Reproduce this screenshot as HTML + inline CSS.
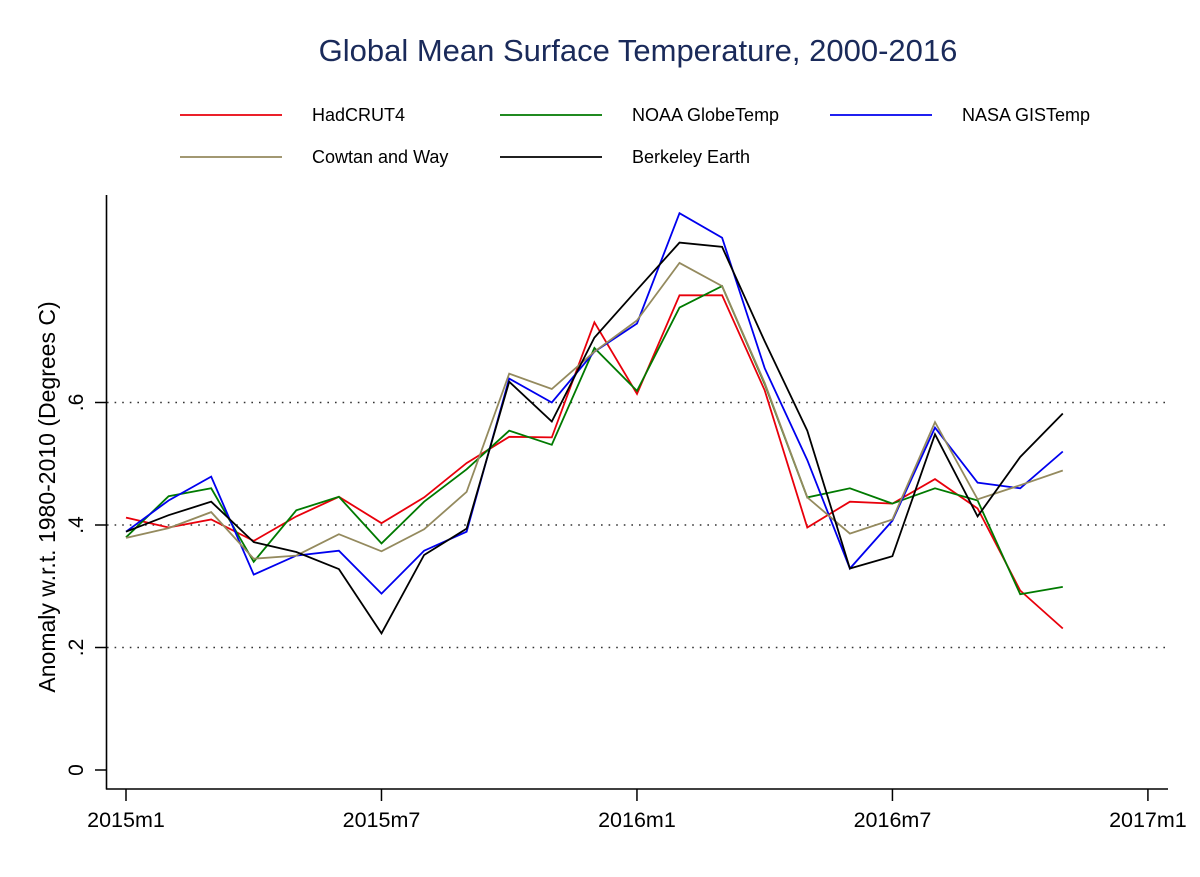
<!DOCTYPE html>
<html><head><meta charset="utf-8"><style>
html,body{margin:0;padding:0;background:#fff;}
svg text{font-family:"Liberation Sans",Arial,sans-serif;}
</style></head><body>
<svg id="chart" width="1200" height="872" viewBox="0 0 1200 872" xmlns="http://www.w3.org/2000/svg">
<rect width="1200" height="872" fill="#fff"/>
<text x="638" y="61" text-anchor="middle" font-size="31" fill="#1a2a5a">Global Mean Surface Temperature, 2000-2016</text>
<g id="legend"></g>
<g id="grid"></g>
<g id="axes"></g>
<g id="series"></g>
<text transform="translate(55,497) rotate(-90)" text-anchor="middle" font-size="23" fill="#000">Anomaly w.r.t. 1980-2010 (Degrees C)</text>
</svg>
<script>
const monthIndex = [0,1,2,3,4,5,6,7,8,9,10,11,12,13,14,15,16,17,18,19,20,21,22];
const seriesNames = ["HadCRUT4","NOAA GlobeTemp","NASA GISTemp","Cowtan and Way","Berkeley Earth"];
const seriesColors = ["#e8000b","#007a00","#0000ee","#948a5e","#000000"];
const hadcrut = [.412,.396,.409,.374,.414,.446,.403,.445,.501,.544,.543,.731,.614,.775,.775,.620,.396,.438,.435,.475,.427,.293,.231];
const noaa = [.380,.447,.460,.340,.424,.446,.370,.438,.491,.554,.531,.689,.619,.755,.790,.630,.445,.460,.435,.460,.440,.287,.299];
const nasa = [.389,.440,.479,.319,.350,.358,.288,.358,.389,.639,.600,.683,.729,.909,.869,.656,.506,.329,.407,.559,.469,.460,.520];
const cowtan = [.379,.395,.421,.345,.350,.385,.357,.393,.454,.647,.622,.683,.734,.828,.790,.632,.445,.386,.409,.568,.442,.465,.489];
const berkeley = [.389,.416,.438,.372,.356,.328,.223,.351,.394,.634,.569,.706,.784,.861,.854,.700,.554,.329,.349,.548,.414,.511,.582];
const allSeries = [hadcrut,noaa,nasa,cowtan,berkeley];
const yTicks = [0,.2,.4,.6];
const yTickLabels = ["0",".2",".4",".6"];
const gridValues = [.2,.4,.6];
const xTicks = [0,6,12,18,24];
const xTickLabels = ["2015m1","2015m7","2016m1","2016m7","2017m1"];

const NS="http://www.w3.org/2000/svg";
function xs(m){return 126 + m*42.58;}
function ys(v){return 770 - v*612.5;}
function mk(tag,attrs,parent){const e=document.createElementNS(NS,tag);for(const k in attrs)e.setAttribute(k,attrs[k]);parent.appendChild(e);return e;}
const grid=document.getElementById('grid'),axes=document.getElementById('axes'),ser=document.getElementById('series'),leg=document.getElementById('legend');

gridValues.forEach(v=>{
  const l=mk('line',{x1:107,x2:1170,y1:ys(v),y2:ys(v),stroke:'#333','stroke-width':1.6,'stroke-dasharray':'1.6 6'},grid);
  
  
});
const ya=mk('line',{x1:106.5,x2:106.5,y1:195,y2:789.5,stroke:'#000','stroke-width':1.6},axes);


const xa=mk('line',{x1:106,x2:1168,y1:789,y2:789,stroke:'#000','stroke-width':1.6},axes);


yTicks.forEach((v,i)=>{
  mk('line',{x1:95,x2:106,y1:ys(v),y2:ys(v),stroke:'#000','stroke-width':1.5},axes);
  const t=mk('text',{transform:`translate(83,${ys(v)}) rotate(-90)`,'text-anchor':'middle','font-size':21,fill:'#000'},axes);
  t.textContent=yTickLabels[i];
  
  
});
xTicks.forEach((m,i)=>{
  mk('line',{x1:xs(m),x2:xs(m),y1:789,y2:801,stroke:'#000','stroke-width':1.5},axes);
  const t=mk('text',{x:xs(m),y:827,'text-anchor':'middle','font-size':21.5,fill:'#000'},axes);
  t.textContent=xTickLabels[i];
  
  
});
allSeries.forEach((vals,si)=>{
  const pts=vals.map((v,i)=>xs(monthIndex[i]).toFixed(1)+','+ys(v).toFixed(1)).join(' ');
  const p=mk('polyline',{points:pts,fill:'none',stroke:seriesColors[si],'stroke-width':1.8,'stroke-linejoin':'miter'},ser);
  
  
});
const legPos=[[180,115],[500,115],[830,115],[180,157],[500,157]];
seriesNames.forEach((n,i)=>{
  const [x,y]=legPos[i];
  const g=mk('g',{},leg);
  
  
  mk('line',{x1:x,x2:x+102,y1:y,y2:y,stroke:seriesColors[i],'stroke-width':1.8},g);
  const t=mk('text',{x:x+132,y:y+6,'font-size':18,fill:'#000'},g);
  t.textContent=n;
});
</script>
</body></html>
